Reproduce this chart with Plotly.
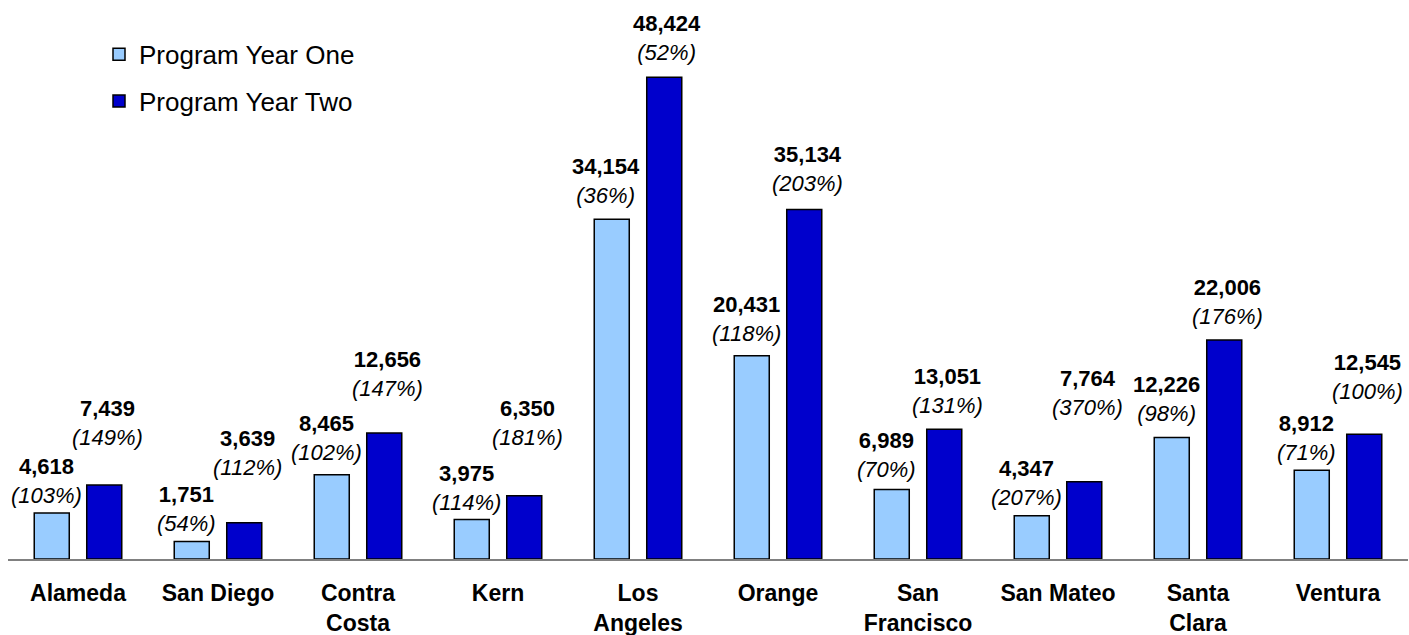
import plotly.graph_objects as go

counties = ["Alameda", "San Diego", "Contra<br>Costa", "Kern", "Los<br>Angeles",
            "Orange", "San<br>Francisco", "San Mateo", "Santa<br>Clara", "Ventura"]
year_one = [4618, 1751, 8465, 3975, 34154, 20431, 6989, 4347, 12226, 8912]
year_one_pct = [103, 54, 102, 114, 36, 118, 70, 207, 98, 71]
year_two = [7439, 3639, 12656, 6350, 48424, 35134, 13051, 7764, 22006, 12545]
year_two_pct = [149, 112, 147, 181, 52, 203, 131, 370, 176, 100]

# label vertical gaps above bars (pixels), as placed in the original
gap_one = [8, 9, 13, 7, 14, 13, 10, 9, 14, 8]
gap_two = [38, 46, 35, 49, 15, 17, 14, 65, 14, 33]

FONT = "Arial, 'Liberation Sans', sans-serif"
LIGHT = "#99CCFF"
DARK = "#0000CC"

fig = go.Figure()
fig.add_trace(go.Bar(x=counties, y=year_one, name="Program Year One",
                     marker=dict(color=LIGHT, line=dict(color="black", width=1.5)),
                     legendgroup="a"))
fig.add_trace(go.Bar(x=counties, y=year_two, name="Program Year Two",
                     marker=dict(color=DARK, line=dict(color="black", width=1.5)),
                     legendgroup="b"))

annotations = []
for i, c in enumerate(counties):
    annotations.append(dict(
        x=c, y=year_one[i], xref="x", yref="y", xanchor="center", yanchor="bottom",
        xshift=-32, yshift=gap_one[i] - 5, showarrow=False,
        text=f"<b>{year_one[i]:,}</b><br><i>({year_one_pct[i]}%)</i>",
        font=dict(family=FONT, size=22, color="black")))
    annotations.append(dict(
        x=c, y=year_two[i], xref="x", yref="y", xanchor="center", yanchor="bottom",
        xshift=29, yshift=gap_two[i] - 5, showarrow=False,
        text=f"<b>{year_two[i]:,}</b><br><i>({year_two_pct[i]}%)</i>",
        font=dict(family=FONT, size=22, color="black")))

fig.update_layout(
    width=1409, height=635,
    margin=dict(l=8, r=1, t=0, b=76),
    paper_bgcolor="white", plot_bgcolor="white",
    barmode="group", bargap=0.25, bargroupgap=0.333,
    font=dict(family=FONT, color="black"),
    showlegend=True,
    legend=dict(x=0.065, y=0.945, xanchor="left", yanchor="top",
                font=dict(family=FONT, size=26, color="black"),
                bgcolor="rgba(0,0,0,0)", tracegroupgap=10, traceorder="grouped"),
    annotations=annotations,
)
fig.update_xaxes(showline=True, linecolor="#808080", linewidth=1.5, ticks="",
                 tickfont=dict(family=FONT, size=23, color="black"),
                 ticklabelstandoff=13, automargin=False,
                 tickprefix="<b>", ticksuffix="</b>", showgrid=False, range=[-0.5, 9.5])
fig.update_yaxes(visible=False, range=[0, 56200], showgrid=False, zeroline=False)

fig.write_html("out.html", config={"displayModeBar": False},
               post_script="document.body.style.margin='0px';")
